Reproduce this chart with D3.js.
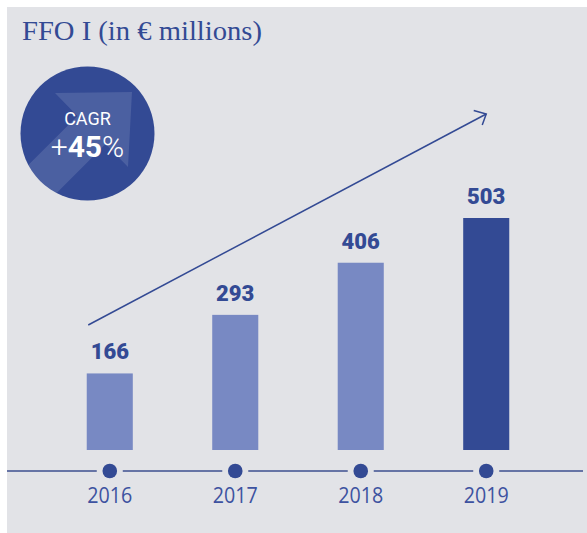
<!DOCTYPE html>
<html><head><meta charset="utf-8">
<script src="https://cdn.jsdelivr.net/npm/d3@7"></script>
<style>html,body{margin:0;padding:0;background:#fff;}svg{display:block;}</style>
</head><body>
<script>
const years = ["2016", "2017", "2018", "2019"];
const values = [166, 293, 406, 503];
const highlight = [false, false, false, true];
const titleText = "FFO I (in € millions)";
const cagrLabel = "CAGR";
const cagrValue = "45";

const W = 587, H = 533;
const svg = d3.select("body").append("svg").attr("width", W).attr("height", H);
const dark = "#334a94", light = "#7889c3", bg = "#e2e3e7";

svg.append("rect").attr("x", 7).attr("y", 7).attr("width", W - 7).attr("height", H - 7).attr("fill", bg);

svg.append("text").attr("x", 22).attr("y", 40)
  .attr("font-family", "'Liberation Serif', serif").attr("font-size", 28)
  .attr("fill", dark).attr("textLength", 240).attr("lengthAdjust", "spacingAndGlyphs").text(titleText);

const x = d3.scaleBand().domain(years).range([24, 572]).paddingInner(0.633).paddingOuter(0.5);
const baseY = 450;
const y = d3.scaleLinear().domain([0, 503]).range([baseY, baseY - 232]);

const data = years.map((yr, i) => ({yr, v: values[i], hi: highlight[i]}));

svg.selectAll("rect.bar").data(data).join("rect").attr("class", "bar")
  .attr("x", d => x(d.yr)).attr("width", x.bandwidth())
  .attr("y", d => y(d.v)).attr("height", d => baseY - y(d.v))
  .attr("fill", d => d.hi ? dark : light);

svg.selectAll("text.val").data(data).join("text").attr("class", "val")
  .attr("x", d => x(d.yr) + x.bandwidth() / 2).attr("y", d => y(d.v) - 14)
  .attr("text-anchor", "middle").attr("font-family", "Roboto, sans-serif")
  .attr("font-weight", 900).attr("font-size", 22).attr("fill", dark)
  .text(d => d.v);

// axis line with gaps around dots
const axisY = 471;
const centers = years.map(yr => x(yr) + x.bandwidth() / 2);
const segs = [];
let start = 7;
centers.forEach(c => { segs.push([start, c - 13]); start = c + 13; });
segs.push([start, 583]);
svg.selectAll("line.ax").data(segs).join("line").attr("class", "ax")
  .attr("x1", d => d[0]).attr("x2", d => d[1]).attr("y1", axisY).attr("y2", axisY)
  .attr("stroke", "#3d4f8f").attr("stroke-width", 1.5);
svg.selectAll("circle.dot").data(years).join("circle").attr("class", "dot")
  .attr("cx", d => x(d) + x.bandwidth() / 2).attr("cy", axisY).attr("r", 7.3).attr("fill", dark);
svg.selectAll("text.yr").data(years).join("text").attr("class", "yr")
  .attr("x", d => x(d) + x.bandwidth() / 2).attr("y", 503)
  .attr("text-anchor", "middle").attr("font-family", "'Open Sans', sans-serif")
  .attr("font-size", 21).attr("fill", "#3d52a0")
  .attr("textLength", 45).attr("lengthAdjust", "spacingAndGlyphs").text(d => d);

// trend arrow
const ax0 = x(years[0]) + 1.5, ay0 = 325;
const ax1 = x(years[3]) + x.bandwidth() / 2, ay1 = 114;
svg.append("line").attr("x1", ax0).attr("y1", ay0).attr("x2", ax1).attr("y2", ay1)
  .attr("stroke", dark).attr("stroke-width", 1.5);
svg.append("path")
  .attr("d", `M${ax1 - 12.5},${ay1 - 3.5} L${ax1},${ay1} L${ax1 - 4},${ay1 + 11}`)
  .attr("fill", "none").attr("stroke", dark).attr("stroke-width", 1.5).attr("stroke-linejoin", "miter");

// CAGR badge
const cx = 87.5, cy = 133.5, r = 67;
const defs = svg.append("defs");
defs.append("clipPath").attr("id", "cc").append("circle").attr("cx", cx).attr("cy", cy).attr("r", r);
svg.append("circle").attr("cx", cx).attr("cy", cy).attr("r", r).attr("fill", dark);
const g = svg.append("g").attr("clip-path", "url(#cc)");
g.append("path")
  .attr("d", "M55,93 L132,92 L128,167 L105.6,144.1 L20.6,229.1 L-7.6,200.9 L77.4,115.9 Z")
  .attr("fill", "#ffffff").attr("fill-opacity", 0.12);
svg.append("text").attr("x", cx).attr("y", 125).attr("text-anchor", "middle")
  .attr("font-family", "Roboto, sans-serif").attr("font-size", 18).attr("fill", "#fff").text(cagrLabel);
const t = svg.append("text").attr("x", cx).attr("y", 157).attr("text-anchor", "middle")
  .attr("font-family", "Roboto, sans-serif").attr("font-size", 30).attr("fill", "#fff");
t.append("tspan").attr("font-weight", 300).text("+");
t.append("tspan").attr("font-weight", 700).text(cagrValue);
t.append("tspan").attr("font-weight", 300).text("%");
</script>
</body></html>
